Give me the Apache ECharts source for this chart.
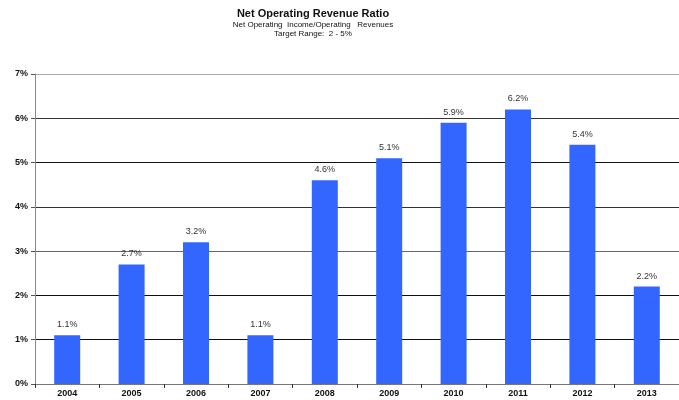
<!DOCTYPE html>
<html>
<head>
<meta charset="utf-8">
<script src="https://cdn.jsdelivr.net/npm/echarts@6/dist/echarts.min.js"></script>
<style>
  html, body { margin: 0; padding: 0; background: #fff; }
  #chart { width: 679px; height: 400px; }
</style>
</head>
<body>
<div id="chart"></div>
<script>
// Fiscal years and the net operating revenue ratio (%) for each
const years = ['2004', '2005', '2006', '2007', '2008', '2009', '2010', '2011', '2012', '2013'];
const ratioPct = [1.1, 2.7, 3.2, 1.1, 4.6, 5.1, 5.9, 6.2, 5.4, 2.2];
const titleText = 'Net Operating Revenue Ratio';
const subtitleLines = ['Net Operating  Income/Operating   Revenues', 'Target Range:  2 - 5%'];

const FONT = '"Liberation Sans", Arial, sans-serif';
const chart = echarts.init(document.getElementById('chart'), null, { renderer: 'canvas' });

chart.setOption({
  animation: false,
  backgroundColor: '#ffffff',
  title: {
    text: titleText,
    subtext: subtitleLines.join('\n'),
    left: 308,
    textAlign: 'center',
    top: 3,
    itemGap: 1,
    textStyle: { fontFamily: FONT, fontSize: 11, fontWeight: 'bold', color: '#111' },
    subtextStyle: { fontFamily: FONT, fontSize: 8, color: '#111', lineHeight: 9 }
  },
  grid: { left: 35, top: 74, width: 655, height: 310, containLabel: false },
  xAxis: {
    type: 'category',
    data: years,
    axisLine: { lineStyle: { color: '#777', width: 1 } },
    axisTick: { show: true, length: 4, inside: false, lineStyle: { color: '#333' } },
    axisLabel: { fontFamily: FONT, fontSize: 9, fontWeight: 'bold', color: '#111', margin: 5 },
    splitLine: { show: false }
  },
  yAxis: {
    type: 'value',
    min: 0,
    max: 7,
    interval: 1,
    axisLine: { show: true, lineStyle: { color: '#888', width: 1 } },
    axisTick: { show: true, length: 4, lineStyle: { color: '#555' } },
    axisLabel: {
      fontFamily: FONT, fontSize: 9, fontWeight: 'bold', color: '#111', margin: 7,
      formatter: v => v + '%'
    },
    splitLine: {
      show: true,
      lineStyle: { color: ['#111', '#111', '#111', '#666', '#333', '#111', '#333', '#aaa'], width: 1 }
    }
  },
  series: [{
    type: 'bar',
    data: ratioPct,
    barWidth: 26,
    itemStyle: { color: '#3366FF' },
    label: {
      show: true,
      position: 'top',
      distance: 6,
      fontFamily: FONT,
      fontSize: 9,
      color: '#333',
      formatter: p => p.value.toFixed(1) + '%'
    }
  }]
});
</script>
</body>
</html>
